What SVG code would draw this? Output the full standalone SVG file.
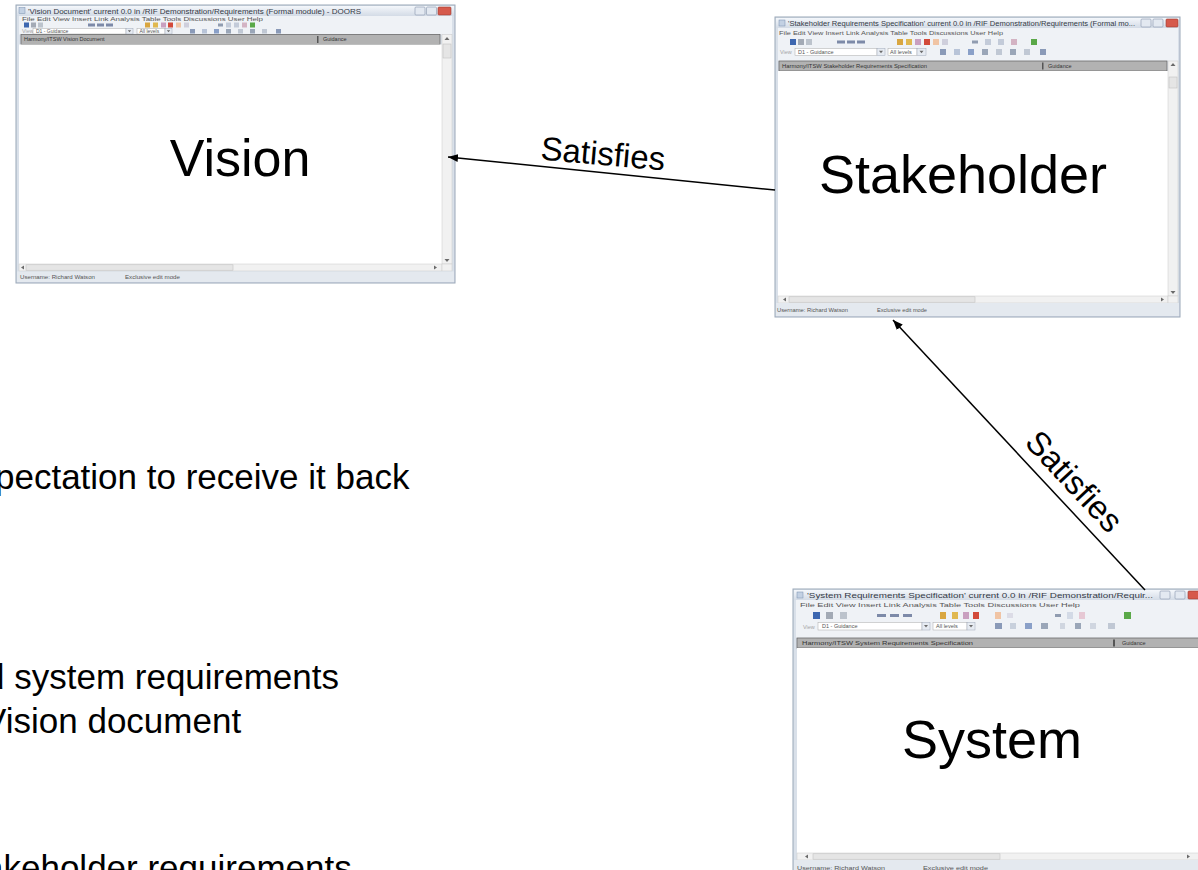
<svg xmlns="http://www.w3.org/2000/svg" width="1198" height="870" viewBox="0 0 1198 870">
<defs>
<linearGradient id="tbar" x1="0" y1="0" x2="0" y2="1"><stop offset="0" stop-color="#f4f7fb"/><stop offset="1" stop-color="#d3dbe6"/></linearGradient>
<marker id="arr" viewBox="0 0 10 8" refX="10" refY="4" markerWidth="10" markerHeight="8" markerUnits="userSpaceOnUse" orient="auto"><path d="M0,0 L10,4 L0,8 Z" fill="#000"/></marker>
</defs>
<style>
.frame{fill:#d9e0e9;stroke:#9aa7b8;stroke-width:1}
.tb{fill:url(#tbar)}
.ttl{font-family:"Liberation Sans",Arial,sans-serif;font-size:7px;fill:#343a46}
.sm{font-family:"Liberation Sans",Arial,sans-serif;font-size:5.5px;fill:#555}
.xs{font-size:5px}
.dk{fill:#333}
.dim{fill:#a6a6a6}
.btn{fill:#e3e9f1;stroke:#8796ab;stroke-width:.6}
.cls{fill:#d65a4c;stroke:#9c3b31;stroke-width:.6}
.bar{fill:#eff2f6}
.hdr{fill:#b2b2b2;stroke:#6b6b6b;stroke-width:.8}
.cnt{fill:#fff}
.sb{fill:#f1f1f1;stroke:#cacaca;stroke-width:.5}
.th{fill:#e5e5e5;stroke:#bdbdbd;stroke-width:.5}
.dd{fill:#fff;stroke:#a9a9a9;stroke-width:.5}
.ddb{fill:#e6ebf2;stroke:#a0a9b9;stroke-width:.5}
.tri{fill:#6a6a6a}
.st{fill:#e4e9ef}
.big{font-family:"Liberation Sans",Arial,sans-serif;font-size:52px;fill:#000}
.big2{font-size:54px}
.lbl{font-family:"Liberation Sans",Arial,sans-serif;font-size:33px;fill:#000}
.body{font-family:"Liberation Sans",Arial,sans-serif;font-size:35px;fill:#000}
.edge{fill:none;stroke:#000;stroke-width:1.5;marker-end:url(#arr)}
</style>
<rect width="1198" height="870" fill="#fff"/>

<g id="node-vision">
<rect class="frame" x="16" y="5" width="439" height="278"/>
<rect class="tb" x="17" y="6" width="437" height="10"/>
<rect x="19" y="7.5" width="6" height="6" fill="#c3d1e3" stroke="#7a8fae" stroke-width=".5"/>
<text class="ttl" x="28" y="13.5" textLength="333" lengthAdjust="spacingAndGlyphs">'Vision Document' current 0.0 in /RIF Demonstration/Requirements (Formal module) - DOORS</text>
<rect class="btn" x="415" y="7" width="10" height="8" rx="1"/>
<rect class="btn" x="426.5" y="7" width="10" height="8" rx="1"/>
<rect class="cls" x="438" y="7" width="13" height="8" rx="1"/>
<rect class="bar" x="19" y="16" width="433" height="18.5"/>
<text class="sm" x="22" y="21" textLength="241" lengthAdjust="spacingAndGlyphs">File  Edit  View  Insert  Link  Analysis  Table  Tools  Discussions  User  Help</text>
<g>
<rect x="24" y="22.5" width="5" height="5" fill="#3d67b0"/><rect x="31" y="22.5" width="5" height="5" fill="#a3aab5"/><rect x="38" y="22.5" width="5" height="5" fill="#bcc3cc"/>
<rect x="88" y="23.5" width="7" height="3" fill="#7d8aa8"/><rect x="97" y="23.5" width="7" height="3" fill="#7d8aa8"/><rect x="106" y="23.5" width="7" height="3" fill="#7d8aa8"/>
<rect x="145" y="22.5" width="5" height="5" fill="#d9a640"/><rect x="153" y="22.5" width="5" height="5" fill="#e0b850"/><rect x="161" y="22.5" width="5" height="5" fill="#c9a0c0"/><rect x="168" y="22.5" width="5" height="5" fill="#d24a3a"/><rect x="176" y="22.5" width="5" height="5" fill="#f0c4a4"/><rect x="184" y="22.5" width="5" height="5" fill="#cfcfdc"/>
<rect x="218" y="23.5" width="5" height="3" fill="#909cb0"/><rect x="226" y="22.5" width="5" height="5" fill="#c3cbd9"/><rect x="234" y="22.5" width="5" height="5" fill="#c3cbd9"/><rect x="242" y="22.5" width="5" height="5" fill="#d3b3c3"/><rect x="250" y="22.5" width="5" height="5" fill="#5aa848"/>
</g>
<text class="sm dim" x="22" y="33">View</text>
<rect class="dd" x="33" y="28.5" width="93" height="5.5"/>
<text class="sm xs" x="36" y="32.8">D1 - Guidance</text>
<rect class="ddb" x="126" y="28.5" width="7" height="5.5"/><path class="tri" d="M127.8,30.3 h3.4 l-1.7,2 z"/>
<rect class="dd" x="137" y="28.5" width="28" height="5.5"/>
<text class="sm xs" x="139.5" y="32.8">All levels</text>
<rect class="ddb" x="165" y="28.5" width="7" height="5.5"/><path class="tri" d="M166.8,30.3 h3.4 l-1.7,2 z"/>
<g>
<rect x="190" y="29" width="5" height="4.5" fill="#8a9ab8"/><rect x="202" y="29" width="5" height="4.5" fill="#b8c4d8"/><rect x="214" y="29" width="5" height="4.5" fill="#8aa0c8"/><rect x="226" y="29" width="5" height="4.5" fill="#9aa6b8"/><rect x="238" y="29" width="5" height="4.5" fill="#c0c8d4"/><rect x="250" y="29" width="5" height="4.5" fill="#9aa6b8"/><rect x="262" y="29" width="5" height="4.5" fill="#c0c8d4"/><rect x="276" y="29" width="5" height="4.5" fill="#8a9ab8"/>
</g>
<rect class="hdr" x="21" y="34.5" width="419" height="10"/>
<text class="sm dk" x="24" y="41.3">Harmony/ITSW Vision Document</text>
<rect x="317" y="36" width="1.5" height="7" fill="#555"/>
<text class="sm dk" x="323" y="41.3">Guidance</text>
<rect class="cnt" x="19" y="44.5" width="423" height="219.5"/>
<rect class="sb" x="442" y="34.5" width="10" height="229.5"/>
<path class="tri" d="M444.5,40 h5 l-2.5,-3 z"/>
<rect class="th" x="443" y="44" width="8" height="14"/>
<path class="tri" d="M444.5,259 h5 l-2.5,3 z"/>
<rect class="sb" x="19" y="264" width="423" height="7"/>
<path class="tri" d="M24,265.5 v4 l-3,-2 z"/>
<rect class="th" x="26" y="264.8" width="207" height="5.4"/>
<path class="tri" d="M434,265.5 v4 l3,-2 z"/>
<rect class="sb" x="442" y="264" width="10" height="7"/>
<rect class="st" x="17" y="271.5" width="437" height="10.5"/>
<text class="sm" x="20" y="279" textLength="75" lengthAdjust="spacingAndGlyphs">Username: Richard Watson</text>
<text class="sm" x="125" y="279" textLength="55" lengthAdjust="spacingAndGlyphs">Exclusive edit mode</text>
<text class="big" x="240" y="176" text-anchor="middle">Vision</text>
</g>

<g id="node-stakeholder">
<rect class="frame" x="775" y="17" width="405" height="300"/>
<rect class="tb" x="776" y="18" width="403" height="10"/>
<rect x="779" y="20" width="6" height="6" fill="#c3d1e3" stroke="#7a8fae" stroke-width=".5"/>
<text class="ttl" x="788" y="25.5" textLength="347" lengthAdjust="spacingAndGlyphs">'Stakeholder Requirements Specification' current 0.0 in /RIF Demonstration/Requirements (Formal mo...</text>
<rect class="btn" x="1141" y="19" width="10" height="8" rx="1"/>
<rect class="btn" x="1153" y="19" width="10" height="8" rx="1"/>
<rect class="cls" x="1166" y="19" width="12" height="8" rx="1"/>
<rect class="bar" x="778" y="28" width="400" height="33"/>
<text class="sm" x="779" y="34.5" textLength="224" lengthAdjust="spacingAndGlyphs">File  Edit  View  Insert  Link  Analysis  Table  Tools  Discussions  User  Help</text>
<g>
<rect x="790" y="39" width="6" height="6" fill="#3d67b0"/><rect x="798" y="39" width="6" height="6" fill="#a3aab5"/><rect x="806" y="39" width="6" height="6" fill="#bcc3cc"/>
<rect x="837" y="40.5" width="8" height="3" fill="#7d8aa8"/><rect x="847" y="40.5" width="8" height="3" fill="#7d8aa8"/><rect x="857" y="40.5" width="8" height="3" fill="#7d8aa8"/>
<rect x="897" y="39" width="6" height="6" fill="#d9a640"/><rect x="906" y="39" width="6" height="6" fill="#e0b850"/><rect x="915" y="39" width="6" height="6" fill="#c9a0c0"/><rect x="924" y="39" width="6" height="6" fill="#d24a3a"/><rect x="933" y="39" width="6" height="6" fill="#f0c4a4"/><rect x="942" y="39" width="6" height="6" fill="#cfcfdc"/>
<rect x="972" y="40.5" width="6" height="3" fill="#909cb0"/><rect x="985" y="39" width="6" height="6" fill="#c3cbd9"/><rect x="998" y="39" width="6" height="6" fill="#c3cbd9"/><rect x="1011" y="39" width="6" height="6" fill="#d3b3c3"/><rect x="1031" y="39" width="6" height="6" fill="#5aa848"/>
</g>
<text class="sm dim" x="780" y="54">View</text>
<rect class="dd" x="795" y="48.5" width="82" height="7"/>
<text class="sm" x="798" y="53.8">D1 - Guidance</text>
<rect class="ddb" x="877" y="48.5" width="8" height="7"/><path class="tri" d="M879,50.8 h4 l-2,2.4 z"/>
<rect class="dd" x="888" y="48.5" width="29" height="7"/>
<text class="sm" x="890" y="53.8">All levels</text>
<rect class="ddb" x="917" y="48.5" width="9" height="7"/><path class="tri" d="M919.5,50.8 h4 l-2,2.4 z"/>
<g>
<rect x="940" y="49" width="6" height="6" fill="#8a9ab8"/><rect x="954" y="49" width="6" height="6" fill="#b8c4d8"/><rect x="968" y="49" width="6" height="6" fill="#8aa0c8"/><rect x="982" y="49" width="6" height="6" fill="#9aa6b8"/><rect x="996" y="49" width="6" height="6" fill="#c0c8d4"/><rect x="1010" y="49" width="6" height="6" fill="#9aa6b8"/><rect x="1024" y="49" width="6" height="6" fill="#c0c8d4"/><rect x="1040" y="49" width="6" height="6" fill="#8a9ab8"/>
</g>
<rect class="hdr" x="779" y="61" width="388" height="10"/>
<text class="sm dk" x="782" y="68" textLength="145" lengthAdjust="spacingAndGlyphs">Harmony/ITSW Stakeholder Requirements Specification</text>
<rect x="1042" y="62.5" width="1.5" height="7" fill="#555"/>
<text class="sm dk" x="1048" y="68">Guidance</text>
<rect class="cnt" x="778" y="71" width="390" height="225"/>
<rect class="sb" x="1168" y="61" width="10" height="235"/>
<path class="tri" d="M1170.5,66 h5 l-2.5,-3 z"/>
<rect class="th" x="1169" y="77" width="8" height="11"/>
<path class="tri" d="M1170.5,291 h5 l-2.5,3 z"/>
<rect class="sb" x="778" y="296" width="390" height="7"/>
<path class="tri" d="M786,297.5 v4 l-3,-2 z"/>
<rect class="th" x="789" y="296.8" width="186" height="5.4"/>
<path class="tri" d="M1161,297.5 v4 l3,-2 z"/>
<rect class="sb" x="1168" y="296" width="10" height="7"/>
<rect class="st" x="776" y="303" width="403" height="13"/>
<text class="sm" x="777" y="312" textLength="71" lengthAdjust="spacingAndGlyphs">Username: Richard Watson</text>
<text class="sm" x="877" y="312" textLength="50" lengthAdjust="spacingAndGlyphs">Exclusive edit mode</text>
<text class="big big2" x="963" y="193" text-anchor="middle">Stakeholder</text>
</g>

<g id="node-system">
<rect class="frame" x="793" y="589" width="425" height="291"/>
<rect class="tb" x="794" y="590" width="423" height="10"/>
<rect x="797" y="592" width="6" height="6" fill="#c3d1e3" stroke="#7a8fae" stroke-width=".5"/>
<text class="ttl" x="807" y="597.5" textLength="346" lengthAdjust="spacingAndGlyphs">'System Requirements Specification' current 0.0 in /RIF Demonstration/Requir...</text>
<rect class="btn" x="1160" y="591" width="10" height="8" rx="1"/>
<rect class="btn" x="1175" y="591" width="10" height="8" rx="1"/>
<rect class="cls" x="1188" y="591" width="13" height="8" rx="1"/>
<rect class="bar" x="796" y="600" width="420" height="38"/>
<text class="sm" x="800" y="607" textLength="280" lengthAdjust="spacingAndGlyphs">File  Edit  View  Insert  Link  Analysis  Table  Tools  Discussions  User  Help</text>
<g>
<rect x="813" y="612" width="7" height="7" fill="#3d67b0"/><rect x="826" y="612" width="7" height="7" fill="#a3aab5"/><rect x="840" y="612" width="7" height="7" fill="#bcc3cc"/>
<rect x="877" y="614" width="9" height="3" fill="#7d8aa8"/><rect x="890" y="614" width="9" height="3" fill="#7d8aa8"/><rect x="903" y="614" width="9" height="3" fill="#7d8aa8"/>
<rect x="940" y="612" width="6" height="7" fill="#d9a640"/><rect x="952" y="612" width="6" height="7" fill="#e0b850"/><rect x="963" y="612" width="6" height="7" fill="#c9a0c0"/><rect x="973" y="612" width="6" height="7" fill="#d24a3a"/>
<rect x="995" y="612" width="6" height="7" fill="#f0c4a4"/><rect x="1007" y="613" width="6" height="5" fill="#dcdce6"/>
<rect x="1055" y="614" width="6" height="3" fill="#909cb0"/><rect x="1067" y="612" width="6" height="7" fill="#d3dae6"/><rect x="1079" y="612" width="6" height="7" fill="#e6c8d4"/><rect x="1124" y="612" width="7" height="7" fill="#5aa848"/>
</g>
<text class="sm dim" x="803" y="629">View</text>
<rect class="dd" x="818" y="622.5" width="104" height="7.5"/>
<text class="sm" x="822" y="628.3">D1 - Guidance</text>
<rect class="ddb" x="922" y="622.5" width="8" height="7.5"/><path class="tri" d="M924,625 h4 l-2,2.4 z"/>
<rect class="dd" x="933" y="622.5" width="34" height="7.5"/>
<text class="sm" x="936" y="628.3">All levels</text>
<rect class="ddb" x="967" y="622.5" width="8" height="7.5"/><path class="tri" d="M969,625 h4 l-2,2.4 z"/>
<g>
<rect x="995" y="623" width="7" height="6" fill="#8a9ab8"/><rect x="1010" y="623" width="6" height="6" fill="#c8d0dc"/><rect x="1025" y="623" width="7" height="6" fill="#8aa0c8"/><rect x="1041" y="623" width="7" height="6" fill="#9aa6b8"/><rect x="1060" y="623" width="5" height="6" fill="#d0d6e0"/><rect x="1075" y="623" width="6" height="6" fill="#9aa6b8"/><rect x="1090" y="623" width="6" height="6" fill="#d0d6e0"/><rect x="1108" y="623" width="7" height="6" fill="#c0c8d4"/>
</g>
<rect class="hdr" x="797" y="638" width="412" height="10"/>
<text class="sm dk" x="802" y="645.3" textLength="171" lengthAdjust="spacingAndGlyphs">Harmony/ITSW System Requirements Specification</text>
<rect x="1113" y="639.5" width="2" height="7" fill="#555"/>
<text class="sm dk" x="1122" y="645.3">Guidance</text>
<rect class="cnt" x="797" y="648" width="412" height="205"/>
<rect class="sb" x="797" y="853" width="412" height="7"/>
<path class="tri" d="M808,854.5 v4 l-3,-2 z"/>
<rect class="th" x="813" y="853.8" width="187" height="5.4"/>
<path class="tri" d="M1187,854.5 v4 l3,-2 z"/>
<rect class="st" x="794" y="860" width="422" height="12"/>
<text class="sm" x="797" y="869.5" textLength="88" lengthAdjust="spacingAndGlyphs">Username: Richard Watson</text>
<text class="sm" x="923" y="869.5" textLength="65" lengthAdjust="spacingAndGlyphs">Exclusive edit mode</text>
<text class="big big2" x="992" y="758" text-anchor="middle">System</text>
</g>

<g id="connectors">
<path class="edge" d="M775,190 L448,157"/>
<path class="edge" d="M1145,590 L893,320"/>
<text class="lbl" x="602" y="165" text-anchor="middle" transform="rotate(5 602 165)">Satisfies</text>
<text class="lbl" x="1066" y="489" text-anchor="middle" transform="rotate(47 1066 489)">Satisfies</text>
</g>

<g id="body-text">
<text class="body" x="-5" y="489">pectation to receive it back</text>
<text class="body" x="-15" y="689">d system requirements</text>
<text class="body" x="-17" y="733">Vision document</text>
<text class="body" x="-16" y="880">akeholder requirements</text>
</g>
</svg>
